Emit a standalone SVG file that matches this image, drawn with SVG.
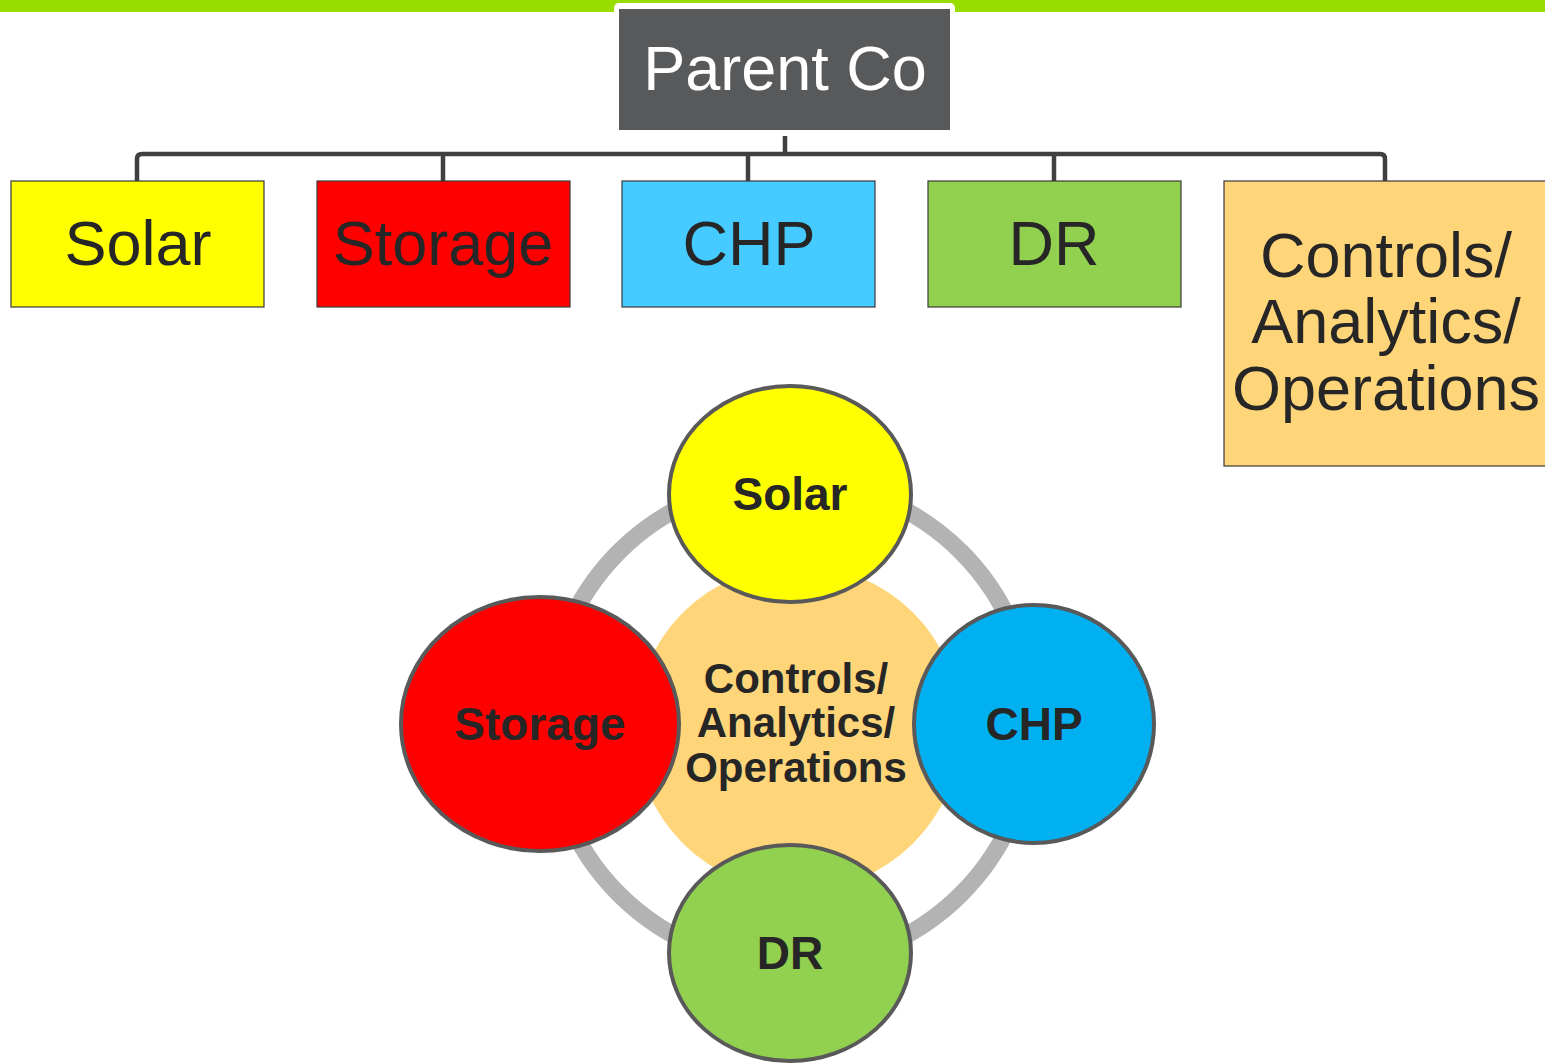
<svg xmlns="http://www.w3.org/2000/svg" width="1545" height="1063" viewBox="0 0 1545 1063">
  <style>
    .box { stroke: #3a3a3a; stroke-width: 1.2; }
    .lbl { font-family: "Liberation Sans", Arial, sans-serif; fill: #262626; text-anchor: middle; }
    .big { font-size: 63px; }
    .bold { font-size: 46px; font-weight: bold; }
    .mid { font-size: 42px; font-weight: bold; }
    .conn { fill: none; stroke: #404040; stroke-width: 4.5; stroke-linejoin: round; }
    .disc { stroke: #595959; stroke-width: 4; }
  </style>

  <!-- top accent bar -->
  <rect x="0" y="0" width="1545" height="12" fill="#99DD00"/>

  <!-- org chart connectors -->
  <g id="connectors">
    <path class="conn" d="M785,135 V154"/>
    <path class="conn" d="M137,181 V159 Q137,154 142,154 H1380 Q1385,154 1385,159 V181"/>
    <path class="conn" d="M443,154 V181"/>
    <path class="conn" d="M748,154 V181"/>
    <path class="conn" d="M1054,154 V181"/>
  </g>

  <g id="parent">
    <rect x="614" y="3" width="341" height="133" rx="5" fill="#ffffff"/>
    <rect x="619" y="9" width="331" height="121" fill="#58595B"/>
    <text class="lbl big" x="785" y="90" style="fill:#ffffff">Parent Co</text>
  </g>

  <g id="box-solar">
    <rect class="box" x="11" y="181" width="253" height="126" fill="#FFFF00"/>
    <text class="lbl big" x="138" y="265">Solar</text>
  </g>
  <g id="box-storage">
    <rect class="box" x="317" y="181" width="253" height="126" fill="#FF0000"/>
    <text class="lbl big" x="443" y="265">Storage</text>
  </g>
  <g id="box-chp">
    <rect class="box" x="622" y="181" width="253" height="126" fill="#45CBFF"/>
    <text class="lbl big" x="749" y="265">CHP</text>
  </g>
  <g id="box-dr">
    <rect class="box" x="928" y="181" width="253" height="126" fill="#92D050"/>
    <text class="lbl big" x="1054" y="265">DR</text>
  </g>
  <g id="box-controls">
    <rect class="box" x="1224" y="181" width="340" height="285" fill="#FFD579"/>
    <text class="lbl big" x="1386" y="277">Controls/</text>
    <text class="lbl big" x="1386" y="343">Analytics/</text>
    <text class="lbl big" x="1386" y="410">Operations</text>
  </g>

  <!-- cycle diagram -->
  <g id="ring">
    <circle cx="790" cy="723" r="242" fill="none" stroke="#B3B3B3" stroke-width="17"/>
  </g>
  <g id="hub">
    <circle cx="798" cy="728" r="163" fill="#FFD579"/>
    <text class="lbl mid" x="796" y="693">Controls/</text>
    <text class="lbl mid" x="796" y="737">Analytics/</text>
    <text class="lbl mid" x="796" y="782">Operations</text>
  </g>
  <g id="disc-solar">
    <ellipse class="disc" cx="790" cy="494" rx="121" ry="108" fill="#FFFF00"/>
    <text class="lbl bold" x="790" y="510">Solar</text>
  </g>
  <g id="disc-storage">
    <ellipse class="disc" cx="540" cy="724" rx="139" ry="127" fill="#FF0000"/>
    <text class="lbl bold" x="540" y="740">Storage</text>
  </g>
  <g id="disc-chp">
    <ellipse class="disc" cx="1034" cy="724" rx="120" ry="119" fill="#00B0F0"/>
    <text class="lbl bold" x="1034" y="740">CHP</text>
  </g>
  <g id="disc-dr">
    <ellipse class="disc" cx="790" cy="953" rx="121" ry="108" fill="#92D050"/>
    <text class="lbl bold" x="790" y="969">DR</text>
  </g>
</svg>
